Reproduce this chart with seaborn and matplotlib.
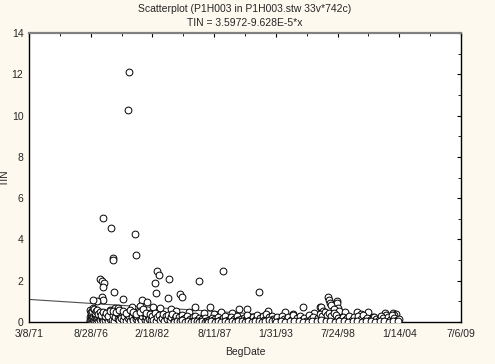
import numpy as np
import pandas as pd
import matplotlib
matplotlib.use("Agg")
import matplotlib.pyplot as plt
from matplotlib.ticker import MultipleLocator, FixedLocator
import seaborn as sns

# ---------------- data (BegDate as decimal year, TIN) ----------------
a_hi_dates = [1977.48, 1977.66, 1977.83, 1977.75, 1978.72, 1977.66, 1977.75, 1977.21, 1977.30, 1976.86,
              1978.37, 1978.81, 1977.75, 1978.46, 1978.63, 1978.65]
a_hi_tin = [2.08, 2.00, 1.90, 1.70, 1.45, 1.20, 1.07, 1.00, 0.48, 1.05,
            0.60, 0.70, 5.05, 4.55, 3.10, 3.02]

a_lo_dates = [1976.55, 1976.58, 1976.62, 1976.66, 1976.70, 1976.74, 1976.78, 1976.82, 1976.86, 1976.90,
              1976.95, 1977.00, 1977.05, 1977.10, 1977.15, 1977.20, 1977.25, 1977.30, 1977.36, 1977.42,
              1977.48, 1977.55, 1977.62, 1977.70, 1977.78, 1977.86, 1977.95, 1978.05, 1978.15, 1978.25,
              1978.35, 1978.45,
              1976.60, 1976.68, 1976.76, 1976.84, 1976.92, 1977.02, 1977.12, 1977.22, 1977.32, 1977.44,
              1977.58, 1977.72, 1977.88, 1978.00, 1978.20, 1978.40]
a_lo_tin = [0.05, 0.22, 0.12, 0.38, 0.08, 0.30, 0.15, 0.45, 0.02, 0.26,
            0.10, 0.35, 0.18, 0.06, 0.28, 0.14, 0.50, 0.04, 0.20, 0.32,
            0.09, 0.42, 0.16, 0.25, 0.07, 0.36, 0.12, 0.22, 0.05, 0.30,
            0.15, 0.40,
            0.60, 0.48, 0.55, 0.70, 0.62, 0.44, 0.52, 0.58, 0.40, 0.47,
            0.35, 0.50, 0.30, 0.45, 0.28, 0.55]

b_hi_dates = [1979.96, 1980.05, 1980.58, 1980.67, 1979.52, 1981.21, 1981.65, 1980.31, 1979.10, 1981.03,
              1982.18, 1982.36, 1982.45, 1982.54, 1982.71, 1980.90]
b_hi_tin = [10.25, 12.12, 4.25, 3.25, 1.10, 1.07, 0.97, 0.73, 0.68, 0.78,
            0.73, 1.90, 1.40, 2.47, 2.28, 0.55]

b_lo_dates = [1978.55, 1978.65, 1978.75, 1978.85, 1978.95, 1979.05, 1979.15, 1979.25, 1979.35, 1979.45,
              1979.55, 1979.65, 1979.75, 1979.85, 1979.95, 1980.05, 1980.15, 1980.25, 1980.35, 1980.45,
              1980.55, 1980.65, 1980.75, 1980.85, 1980.95, 1981.05, 1981.15, 1981.25, 1981.35, 1981.45,
              1981.55, 1981.65, 1981.75, 1981.85, 1981.95, 1982.05,
              1978.60, 1978.90, 1979.20, 1979.50, 1979.80, 1980.10, 1980.40, 1980.70, 1981.00, 1981.30,
              1981.60, 1981.90]
b_lo_tin = [0.10, 0.32, 0.05, 0.25, 0.42, 0.15, 0.08, 0.36, 0.20, 0.50,
            0.12, 0.28, 0.04, 0.40, 0.18, 0.30, 0.06, 0.45, 0.22, 0.10,
            0.35, 0.14, 0.26, 0.03, 0.38, 0.20, 0.08, 0.30, 0.45, 0.12,
            0.25, 0.05, 0.32, 0.16, 0.42, 0.09,
            0.55, 0.48, 0.60, 0.52, 0.44, 0.58, 0.47, 0.40, 0.50, 0.62,
            0.45, 0.38]

c_hi_dates = [1983.60, 1983.51, 1984.58, 1984.75, 1983.78, 1985.91, 1986.26, 1987.24, 1982.80, 1984.20,
              1985.40, 1986.70]
c_hi_tin = [2.08, 1.16, 1.35, 1.22, 0.63, 0.73, 2.00, 0.73, 0.68, 0.55,
            0.50, 0.45]

c_lo_dates = [1982.10, 1982.22, 1982.34, 1982.46, 1982.58, 1982.70, 1982.82, 1982.94, 1983.06, 1983.18,
              1983.30, 1983.42, 1983.54, 1983.66, 1983.78, 1983.90, 1984.02, 1984.14, 1984.26, 1984.38,
              1984.50, 1984.62, 1984.74, 1984.86, 1984.98, 1985.10, 1985.22, 1985.34, 1985.46, 1985.58,
              1985.70, 1985.82, 1985.94, 1986.06, 1986.18, 1986.30, 1986.42, 1986.54, 1986.66, 1986.78,
              1986.90,
              1984.05, 1984.30, 1984.55, 1984.80, 1985.05, 1985.30, 1985.55, 1985.80, 1986.05, 1986.30,
              1986.55, 1986.80]
c_lo_tin = [0.30, 0.12, 0.42, 0.05, 0.25, 0.35, 0.10, 0.20, 0.40, 0.06,
            0.28, 0.15, 0.33, 0.08, 0.22, 0.38, 0.04, 0.18, 0.30, 0.12,
            0.26, 0.06, 0.35, 0.14, 0.20, 0.03, 0.28, 0.10, 0.16, 0.05,
            0.24, 0.08, 0.30, 0.12, 0.04, 0.20, 0.09, 0.15, 0.02, 0.18,
            0.07,
            0.02, 0.06, 0.03, 0.08, 0.01, 0.05, 0.02, 0.07, 0.03, 0.01,
            0.05, 0.02]

d_hi_dates = [1988.39, 1988.21, 1989.81, 1990.52, 1991.58, 1987.60, 1989.20, 1992.40]
d_hi_tin = [2.47, 0.48, 0.63, 0.63, 1.45, 0.40, 0.45, 0.55]

d_lo_dates = [1987.00, 1987.13, 1987.26, 1987.39, 1987.52, 1987.65, 1987.78, 1987.91, 1988.04, 1988.17,
              1988.30, 1988.43, 1988.56, 1988.69, 1988.82, 1988.95, 1989.08, 1989.21, 1989.34, 1989.47,
              1989.60, 1989.73, 1989.86, 1989.99, 1990.12, 1990.25, 1990.38, 1990.51, 1990.64, 1990.77,
              1990.90, 1991.03, 1991.16, 1991.29, 1991.42, 1991.55, 1991.68, 1991.81, 1991.94, 1992.07,
              1992.20, 1992.33, 1992.46, 1992.59, 1992.72, 1992.85,
              1987.05, 1987.35, 1987.65, 1987.95, 1988.25, 1988.55, 1988.85, 1989.15, 1989.45, 1989.75,
              1990.05, 1990.35, 1990.65, 1990.95, 1991.25, 1991.55, 1991.85, 1992.15, 1992.45, 1992.75]
d_lo_tin = [0.05, 0.12, 0.02, 0.20, 0.08, 0.15, 0.03, 0.25, 0.06, 0.10,
            0.02, 0.18, 0.30, 0.04, 0.12, 0.08, 0.22, 0.03, 0.14, 0.06,
            0.28, 0.10, 0.02, 0.16, 0.05, 0.20, 0.09, 0.32, 0.04, 0.12,
            0.07, 0.25, 0.03, 0.15, 0.35, 0.08, 0.18, 0.05, 0.28, 0.12,
            0.38, 0.06, 0.22, 0.10, 0.30, 0.15,
            0.01, 0.03, 0.02, 0.05, 0.01, 0.04, 0.02, 0.06, 0.01, 0.03,
            0.05, 0.02, 0.04, 0.01, 0.03, 0.06, 0.02, 0.04, 0.08, 0.05]

e_hi_dates = [1993.89, 1995.49, 1996.99, 1997.08, 1997.71, 1997.80, 1997.88, 1998.50, 1998.50, 1998.59,
              2000.28, 2001.25, 2001.70, 2002.76, 2003.47, 2003.74, 1997.30, 1997.95, 1998.20, 1998.70,
              1996.50, 1999.20, 2000.60, 2002.90, 2003.60, 1994.60]
e_hi_tin = [0.48, 0.73, 0.73, 0.73, 1.20, 1.07, 0.90, 1.00, 0.90, 0.68,
            0.48, 0.48, 0.25, 0.44, 0.44, 0.40, 0.55, 0.80, 0.62, 0.55,
            0.42, 0.50, 0.38, 0.36, 0.35, 0.40]

e_lo_dates = [1993.00, 1993.20, 1993.40, 1993.60, 1993.80, 1994.00, 1994.20, 1994.40, 1994.60, 1994.80,
              1995.00, 1995.20, 1995.40, 1995.60, 1995.80, 1996.00, 1996.20, 1996.40, 1996.60, 1996.80,
              1997.00, 1997.20, 1997.40, 1997.60, 1997.80, 1998.00, 1998.20, 1998.40, 1998.60, 1998.80,
              1999.00, 1999.20, 1999.40, 1999.60, 1999.80, 2000.00, 2000.20, 2000.40, 2000.60, 2000.80,
              2001.00, 2001.20, 2001.40, 2001.60, 2001.80, 2002.00, 2002.20, 2002.40, 2002.60, 2002.80,
              2003.00, 2003.20, 2003.40, 2003.60, 2003.80, 2004.00,
              1993.10, 1993.50, 1993.90, 1994.30, 1994.70, 1995.10, 1995.50, 1995.90, 1996.30, 1996.70,
              1997.10, 1997.50, 1997.90, 1998.30, 1998.70, 1999.10, 1999.50, 1999.90, 2000.30, 2000.70,
              2001.10, 2001.50, 2001.90, 2002.30, 2002.70, 2003.10, 2003.50, 2003.90]
e_lo_tin = [0.10, 0.22, 0.05, 0.30, 0.15, 0.08, 0.25, 0.12, 0.35, 0.04,
            0.18, 0.28, 0.09, 0.20, 0.06, 0.32, 0.14, 0.24, 0.03, 0.18,
            0.40, 0.30, 0.50, 0.36, 0.45, 0.28, 0.42, 0.33, 0.20, 0.12,
            0.25, 0.08, 0.18, 0.30, 0.10, 0.22, 0.05, 0.28, 0.14, 0.35,
            0.09, 0.20, 0.12, 0.04, 0.26, 0.15, 0.08, 0.30, 0.18, 0.06,
            0.24, 0.12, 0.32, 0.20, 0.10, 0.16,
            0.02, 0.05, 0.01, 0.04, 0.03, 0.06, 0.02, 0.01, 0.05, 0.03,
            0.08, 0.04, 0.06, 0.02, 0.05, 0.03, 0.01, 0.06, 0.04, 0.02,
            0.05, 0.03, 0.01, 0.04, 0.06, 0.02, 0.05, 0.03]

# regression from the title: TIN = 3.5972 - 9.628E-5 * x   (x = date serial)
reg_intercept = 3.5972
reg_slope = -9.628e-5

x_tick_labels = ["3/8/71", "8/28/76", "2/18/82", "8/11/87", "1/31/93", "7/24/98", "1/14/04", "7/6/09"]
x_start_serial = 26000   # 3/8/71
x_tick_step = 2000

# ---------------- assemble ----------------
dates = np.array(a_hi_dates + a_lo_dates + b_hi_dates + b_lo_dates + c_hi_dates + c_lo_dates
                 + d_hi_dates + d_lo_dates + e_hi_dates + e_lo_dates)
tin = np.array(a_hi_tin + a_lo_tin + b_hi_tin + b_lo_tin + c_hi_tin + c_lo_tin
               + d_hi_tin + d_lo_tin + e_hi_tin + e_lo_tin)
serial = x_start_serial + (dates - 1971.181) * 365.25
df = pd.DataFrame({"BegDate": serial, "TIN": tin})

# ---------------- plot ----------------
sns.set_style("white")
plt.rcParams["font.family"] = ["Liberation Sans", "DejaVu Sans"]

bg = "#FDF9EE"
fig = plt.figure(figsize=(4.95, 3.64), dpi=100, facecolor=bg)
ax = fig.add_axes([29 / 495, 1 - 322 / 364, 432 / 495, 289 / 364])
ax.set_facecolor("white")

x_end = x_start_serial + x_tick_step * (len(x_tick_labels) - 1)
xline = np.array([x_start_serial, x_end], dtype=float)
reg_df = pd.DataFrame({"x": xline, "y": reg_intercept + reg_slope * xline})
sns.lineplot(data=reg_df, x="x", y="y", ax=ax, color="#505050", linewidth=0.8, zorder=2)

sns.scatterplot(data=df, x="BegDate", y="TIN", ax=ax, marker="o", s=24,
                facecolor="white", edgecolor="black", linewidth=0.7, zorder=3)

ax.set_xlim(x_start_serial, x_end)
ax.set_ylim(0, 14)
ax.xaxis.set_major_locator(FixedLocator([x_start_serial + i * x_tick_step for i in range(len(x_tick_labels))]))
ax.set_xticklabels(x_tick_labels)
ax.xaxis.set_minor_locator(MultipleLocator(x_tick_step / 2))
ax.yaxis.set_major_locator(MultipleLocator(2))
ax.yaxis.set_minor_locator(MultipleLocator(1))

ax.tick_params(which="major", direction="in", length=3, width=0.8, color="black",
               top=True, right=True, labelsize=7.5, pad=4)
ax.tick_params(which="minor", direction="in", length=2, width=0.6, color="black",
               top=True, right=True)
ax.tick_params(axis="x", pad=5)

for side in ["left", "bottom", "right"]:
    ax.spines[side].set_color("black")
    ax.spines[side].set_linewidth(1.0)
    ax.spines[side].set_visible(True)
ax.spines["top"].set_color("#808080")
ax.spines["top"].set_linewidth(1.6)
ax.spines["top"].set_visible(True)

ax.set_xlabel("")
ax.set_ylabel("")
fig.text(245 / 495, 1 - 352 / 364, "BegDate", ha="center", va="center", fontsize=7.5)
fig.text(5 / 495, 1 - 178 / 364, "TIN", ha="center", va="center", rotation=90, fontsize=7.5)
fig.text(245 / 495, 1 - 9 / 364, "Scatterplot (P1H003 in P1H003.stw 33v*742c)",
         ha="center", va="center", fontsize=7.5)
fig.text(245 / 495, 1 - 23 / 364, "TIN = 3.5972-9.628E-5*x",
         ha="center", va="center", fontsize=7.5)

fig.savefig("out.png", dpi=100, facecolor=bg)
